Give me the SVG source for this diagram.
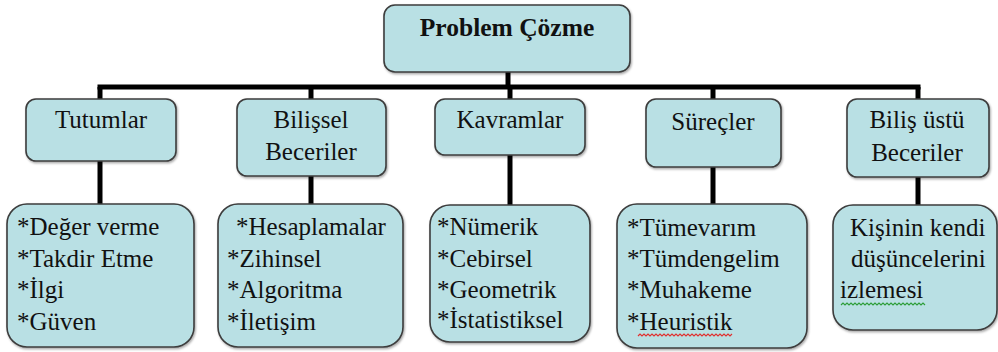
<svg xmlns="http://www.w3.org/2000/svg" width="998" height="352" viewBox="0 0 998 352" font-family="Liberation Serif, Times New Roman, serif">
  <defs>
    <filter id="shadow" x="-10%" y="-10%" width="120%" height="130%">
      <feDropShadow dx="1" dy="1.5" stdDeviation="1.2" flood-color="#000" flood-opacity="0.35"/>
    </filter>
  </defs>
  <style>
    .box { fill: #b9e0e4; stroke: #3c3c3c; stroke-width: 1.6; filter: url(#shadow); }
    .link { stroke: #000; stroke-width: 5; fill: none; stroke-linecap: butt; }
    text { font-family: 'Liberation Serif', 'Times New Roman', serif; font-size: 25px; fill: #111; }
    .mid { text-anchor: middle; }
    .title { font-weight: bold; font-size: 25.5px; }
    .wave { fill: none; stroke-width: 1.2; }
  </style>

  <!-- connectors -->
  <g id="connectors">
    <line class="link" x1="508" y1="71" x2="508" y2="88"/>
    <line class="link" x1="97.5" y1="87" x2="920.5" y2="87"/>
    <line class="link" x1="100" y1="87" x2="100" y2="100"/>
    <line class="link" x1="311" y1="87" x2="311" y2="100"/>
    <line class="link" x1="510" y1="87" x2="510" y2="100"/>
    <line class="link" x1="713" y1="87" x2="713" y2="100"/>
    <line class="link" x1="918" y1="87" x2="918" y2="100"/>
    <line class="link" x1="100" y1="161" x2="100" y2="205"/>
    <line class="link" x1="311" y1="176" x2="311" y2="205"/>
    <line class="link" x1="510" y1="155" x2="510" y2="206"/>
    <line class="link" x1="713" y1="167" x2="713" y2="205"/>
    <line class="link" x1="918" y1="177" x2="918" y2="206"/>
  </g>

  <!-- root -->
  <g id="problem-cozme">
    <rect class="box" x="384" y="5" width="246" height="67" rx="11"/>
    <text class="mid title" x="507" y="36">Problem Çözme</text>
  </g>

  <!-- second level -->
  <g id="tutumlar">
    <rect class="box" x="26" y="99" width="150" height="62" rx="10"/>
    <text class="mid" x="101" y="128">Tutumlar</text>
  </g>
  <g id="bilissel-beceriler">
    <rect class="box" x="237" y="99" width="149" height="77" rx="10"/>
    <text class="mid" x="311" y="128">Bilişsel</text>
    <text class="mid" x="311" y="160">Beceriler</text>
  </g>
  <g id="kavramlar">
    <rect class="box" x="435" y="99" width="150" height="56" rx="10"/>
    <text class="mid" x="510" y="128">Kavramlar</text>
  </g>
  <g id="surecler">
    <rect class="box" x="646" y="99" width="135" height="68" rx="10"/>
    <text class="mid" x="713" y="130">Süreçler</text>
  </g>
  <g id="bilis-ustu-beceriler">
    <rect class="box" x="847" y="99" width="142" height="78" rx="10"/>
    <text class="mid" x="917" y="128">Biliş üstü</text>
    <text class="mid" x="917" y="161">Beceriler</text>
  </g>

  <!-- third level -->
  <g id="tutumlar-list">
    <rect class="box" x="7" y="204" width="187" height="143" rx="20"/>
    <text x="17" y="235">*Değer verme</text>
    <text x="17" y="267">*Takdir Etme</text>
    <text x="17" y="298">*İlgi</text>
    <text x="17" y="330">*Güven</text>
  </g>
  <g id="bilissel-list">
    <rect class="box" x="218" y="204" width="185" height="143" rx="20"/>
    <text x="236" y="235">*Hesaplamalar</text>
    <text x="227" y="267">*Zihinsel</text>
    <text x="227" y="298">*Algoritma</text>
    <text x="227" y="330">*İletişim</text>
  </g>
  <g id="kavramlar-list">
    <rect class="box" x="430" y="205" width="160" height="137" rx="20"/>
    <text x="437" y="235">*Nümerik</text>
    <text x="437" y="267">*Cebirsel</text>
    <text x="437" y="298">*Geometrik</text>
    <text x="437" y="328">*İstatistiksel</text>
  </g>
  <g id="surecler-list">
    <rect class="box" x="617" y="204" width="190" height="144" rx="20"/>
    <text x="627" y="236">*Tümevarım</text>
    <text x="627" y="267">*Tümdengelim</text>
    <text x="627" y="298">*Muhakeme</text>
    <text x="627" y="330">*Heuristik</text>
    <path class="wave" stroke="#e03030" d="M638 336 l2 -2 l2 2 l2 -2 l2 2 l2 -2 l2 2 l2 -2 l2 2 l2 -2 l2 2 l2 -2 l2 2 l2 -2 l2 2 l2 -2 l2 2 l2 -2 l2 2 l2 -2 l2 2 l2 -2 l2 2 l2 -2 l2 2 l2 -2 l2 2 l2 -2 l2 2 l2 -2 l2 2 l2 -2 l2 2 l2 -2 l2 2 l2 -2 l2 2 l2 -2 l2 2 l2 -2 l2 2 l2 -2 l2 2 l2 -2 l2 2 l2 -2 l2 2 l2 -2"/>
  </g>
  <g id="bilis-ustu-list">
    <rect class="box" x="833" y="205" width="164" height="125" rx="20"/>
    <text x="850" y="236">Kişinin kendi</text>
    <text x="851" y="267">düşüncelerini</text>
    <text x="840" y="298">izlemesi</text>
    <path class="wave" stroke="#2e9e3a" d="M841 305 l2 -2 l2 2 l2 -2 l2 2 l2 -2 l2 2 l2 -2 l2 2 l2 -2 l2 2 l2 -2 l2 2 l2 -2 l2 2 l2 -2 l2 2 l2 -2 l2 2 l2 -2 l2 2 l2 -2 l2 2 l2 -2 l2 2 l2 -2 l2 2 l2 -2 l2 2 l2 -2 l2 2 l2 -2 l2 2 l2 -2 l2 2 l2 -2 l2 2 l2 -2 l2 2 l2 -2 l2 2 l2 -2 l2 2"/>
  </g>
</svg>
